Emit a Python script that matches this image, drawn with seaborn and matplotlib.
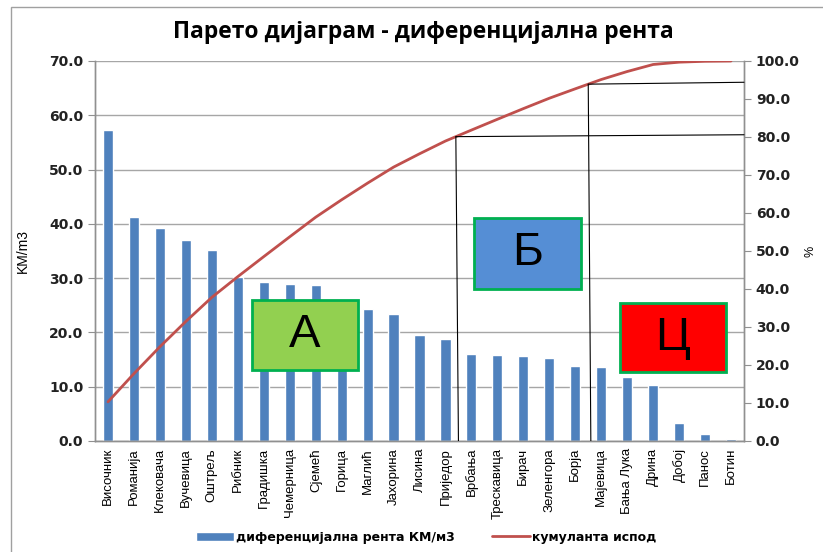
import matplotlib
matplotlib.use("Agg")
import matplotlib.pyplot as plt
from matplotlib.patches import Rectangle, Patch
from matplotlib.lines import Line2D
import seaborn as sns
import numpy as np
import pandas as pd

# podaci ocitani sa slike
lokacije = ["Височник", "Романија", "Клековача", "Вучевица", "Оштрељ", "Рибник",
            "Градишка", "Чемерница", "Сјемећ", "Горица", "Маглић", "Јахорина",
            "Лисина", "Пријeдор", "Врбања", "Трескавица", "Бирач", "Зеленгора",
            "Борја", "Мајевица", "Бања Лука", "Дрина", "Добој", "Панос", "Ботин"]
renta = [57.3, 41.3, 39.3, 37.1, 35.2, 30.3, 29.3, 29.0, 28.7, 25.5, 24.4, 23.4,
         19.5, 18.7, 16.0, 15.8, 15.6, 15.2, 13.8, 13.6, 11.7, 10.3, 3.4, 1.3, 0.4]
granice = [13.4, 18.5]  # granice ABC grupa (izmedju kategorija)
grupe = ["А", "Б", "Ц"]
boje_grupa = ["#92D050", "#558ED5", "#FF0000"]

df = pd.DataFrame({"lokacija": lokacije, "renta": renta})
df["kumulanta"] = df["renta"].cumsum() / df["renta"].sum() * 100

sns.set_style("white")
plt.rcParams["font.family"] = ["DejaVu Sans"]
plt.rcParams["text.color"] = "black"
plt.rcParams["xtick.color"] = "black"
plt.rcParams["ytick.color"] = "black"
plt.rcParams["axes.labelcolor"] = "black"

fig = plt.figure(figsize=(8.23, 5.52), dpi=100)
ax = fig.add_axes([95 / 823, 1 - 441 / 552, 649 / 823, 380 / 552])
ax2 = ax.twinx()

sns.barplot(data=df, x="lokacija", y="renta", color="#4F81BD", width=0.39,
            saturation=1, ax=ax, zorder=2)
sns.lineplot(x=np.arange(len(df)), y=df["kumulanta"].values, color="#C0504D",
             linewidth=2, ax=ax2, sort=False)

ax.set_xlim(-0.5, len(df) - 0.5)
ax.set_ylim(0, 70)
ax2.set_ylim(0, 100)
ax.set_yticks(np.arange(0, 71, 10))
ax2.set_yticks(np.arange(0, 101, 10))
ax.set_yticklabels([f"{v:.1f}" for v in np.arange(0, 71, 10)], fontweight="bold",
                   fontsize=10, color="#222222")
ax2.set_yticklabels([f"{v:.1f}" for v in np.arange(0, 101, 10)], fontweight="bold",
                    fontsize=10, color="#222222")
ax.set_xticks(np.arange(len(df)))
ax.set_xticklabels(lokacije, rotation=90, fontsize=9.5, family="Liberation Sans")
ax.set_xticks(np.arange(len(df) + 1) - 0.5, minor=True)
ax.tick_params(axis="x", which="major", length=0, pad=5)
ax.tick_params(axis="x", which="minor", length=4, color="#909090", direction="out")
ax.tick_params(axis="y", length=5, color="#909090", direction="out", left=True)
ax2.tick_params(axis="y", length=5, color="#909090", direction="out", right=True)

ax.grid(axis="y", color="#A6A6A6", linewidth=1)
ax.set_axisbelow(True)
ax.set_xlabel("")
ax.set_ylabel("KM/m3", fontsize=10, family="Liberation Sans", labelpad=14)
ax2.set_ylabel("%", fontsize=9, family="Liberation Sans")
ax2.yaxis.set_label_coords((805 - 95) / 649, 0.5)

for a in (ax, ax2):
    a.spines["top"].set_visible(False)
    for s in ("left", "right", "bottom"):
        a.spines[s].set_color("#909090")
        a.spines[s].set_linewidth(1)

# linije granica ABC
xs = np.arange(len(df))
for g in granice:
    p = np.interp(g, xs, df["kumulanta"].values)
    ax2.plot([g, g + 0.1], [p, 0], color="black", linewidth=0.8, zorder=3)
    ax2.plot([g, len(df) - 0.5], [p, p + 0.5], color="black", linewidth=0.8,
             zorder=3, clip_on=False)

# oznake grupa
kutije = [(5.54, 13.1, 4.1, 12.9), (14.11, 28.05, 4.1, 13.0), (19.72, 12.65, 4.07, 12.75)]
for (x0, y0, w, h), slovo, boja in zip(kutije, grupe, boje_grupa):
    ax.add_patch(Rectangle((x0, y0), w, h, facecolor=boja, edgecolor="#00B050",
                           linewidth=2, zorder=5))
    ax.text(x0 + w / 2, y0 + h / 2, slovo, ha="center", va="center", fontsize=34,
            family="Liberation Sans", color="black", zorder=6)

fig.text(0.514, 1 - 32 / 552, "Парето дијаграм - диференцијална рента",
         ha="center", va="center", fontsize=16.5, fontweight="bold", family="Open Sans",
         color="black")

rucke = [Patch(facecolor="#4F81BD"), Line2D([], [], color="#C0504D", linewidth=2)]
fig.legend(rucke, ["диференцијална рента КМ/м3", "кумуланта испод"], loc="center",
           bbox_to_anchor=(0.518, 1 - 537 / 552), ncol=2, frameon=False,
           prop={"weight": "bold", "size": 9}, handlelength=3, handleheight=0.7,
           columnspacing=3, handletextpad=0.2)

fig.add_artist(Rectangle((11 / 823, -0.1), 1, 1 - 7 / 552 + 0.1, fill=False,
                         edgecolor="#A0A0A0", linewidth=1, transform=fig.transFigure))

fig.savefig("out.png", dpi=100)
